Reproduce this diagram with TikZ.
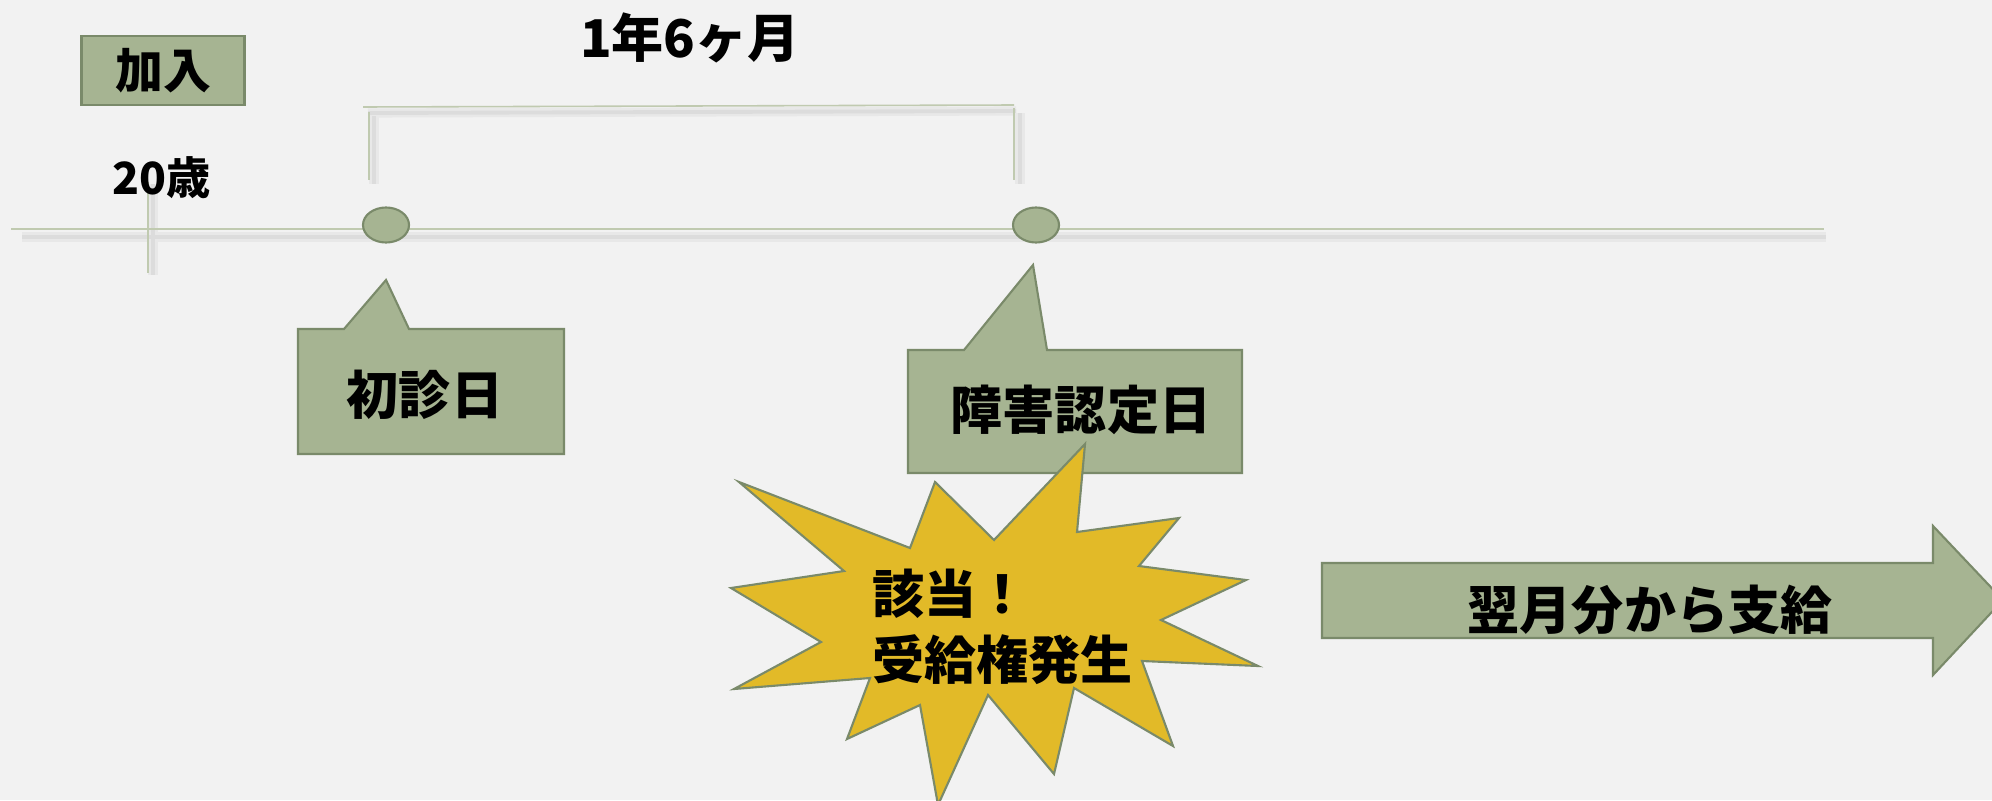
\documentclass[tikz,border=0pt]{standalone}
\usepackage{fontspec}
\newfontfamily\jp{Noto Sans CJK JP}
\usetikzlibrary{shapes.geometric}
\definecolor{bg}{RGB}{242,242,242}
\definecolor{sage}{RGB}{166,180,146}
\definecolor{sageline}{RGB}{122,138,106}
\definecolor{tlcol}{RGB}{192,202,176}
\definecolor{burst}{RGB}{226,186,40}
\definecolor{shadowin}{RGB}{220,220,220}
\definecolor{shadowout}{RGB}{232,232,232}
\begin{document}
\begin{tikzpicture}[x=0.01cm,y=-0.01cm,
  lbl/.style={font=\jp\bfseries\fontsize{14.8}{18.5}\selectfont, inner sep=0pt, text=black},
  greenshape/.style={fill=sage, draw=sageline, line width=0.6pt, line join=miter},
  tline/.style={draw=tlcol, line width=0.55pt},
  shadowband/.style={draw=shadowout, line width=2.6pt},
  shadowcore/.style={draw=shadowin, line width=1.1pt},
  dot/.style={ellipse, fill=sage, draw=sageline, line width=0.6pt, minimum width=0.46cm, minimum height=0.35cm, inner sep=0pt},
]
\useasboundingbox (0,0) rectangle (1992,800);
\fill[bg] (0,0) rectangle (1992,800);
\clip (0,0) rectangle (1992,800);

% coordinates
\coordinate (tlL) at (11,229);
\coordinate (tlR) at (1824,229);
\coordinate (brL) at (363,107);
\coordinate (brR) at (1014,105);
\coordinate (bvLt) at (369,112);
\coordinate (bvLb) at (369,180);
\coordinate (bvRt) at (1014,108);
\coordinate (bvRb) at (1014,180);
\coordinate (tickT) at (148,182);
\coordinate (tickB) at (148,273);

% shadows
\foreach \s in {shadowband,shadowcore}{
  \draw[\s] (22,237) -- (1826,237);
  \draw[\s] (368,113) -- (1016,111);
  \draw[\s] (1020,113) -- (1020,184);
  \draw[\s] (374,116) -- (374,184);
  \draw[\s] (153,184) -- (153,275);
}

% lines
\draw[tline] (tlL) -- (tlR);
\draw[tline, line width=0.45pt] (brL) -- (brR);
\draw[tline, line width=0.45pt] (bvLt) -- (bvLb);
\draw[tline, line width=0.45pt] (bvRt) -- (bvRb);
\draw[tline, line width=0.45pt] (tickT) -- (tickB);

% top labels
\node[lbl, greenshape, font=\jp\bfseries\fontsize{13.6}{16}\selectfont, minimum width=1.63cm, minimum height=0.69cm] (kanyu) at (163,70.5) {加入};
\node[lbl] (period) at (690,38) {1年6ヶ月};
\node[lbl, font=\jp\bfseries\fontsize{12.6}{15}\selectfont] (age) at (162,178) {20歳};

% dots
\node[dot] (d1) at (386,225) {};
\node[dot] (d2) at (1036,225) {};

% callout 1
\path[greenshape] (298,329) -- (344,329) -- (386,280) -- (409,329) -- (564,329) -- (564,454) -- (298,454) -- cycle;
\node[lbl] (shoshin) at (425,395) {初診日};

% callout 2
\path[greenshape] (908,350) -- (964,350) -- (1033,265) -- (1047,350) -- (1242,350) -- (1242,473) -- (908,473) -- cycle;
\node[lbl] (nintei) at (1081,410) {障害認定日};

% starburst
\path[fill=burst, draw=sageline, line width=0.6pt, line join=miter]
 (739,482) -- (910,548) -- (935,482) -- (994,540) -- (1085,444) -- (1077,532)
 -- (1179,518) -- (1139,566) -- (1246,580) -- (1161,620) -- (1258,666) -- (1142,661)
 -- (1173,746) -- (1074,688) -- (1054,774) -- (988,695) -- (938,805) -- (920,705)
 -- (847,739) -- (870,678) -- (734,689) -- (821,642) -- (731,588) -- (844,571) -- cycle;
\node[lbl, align=left, anchor=west, font=\jp\bfseries\fontsize{14.8}{18.6}\selectfont] (gaitou) at (872,627) {該当！\\受給権発生};

% arrow
\path[greenshape] (1322,563) -- (1933,563) -- (1933,526) -- (2003,600) -- (1933,675) -- (1933,638) -- (1322,638) -- cycle;
\node[lbl] (shikyu) at (1650,610) {翌月分から支給};
\end{tikzpicture}
\end{document}
